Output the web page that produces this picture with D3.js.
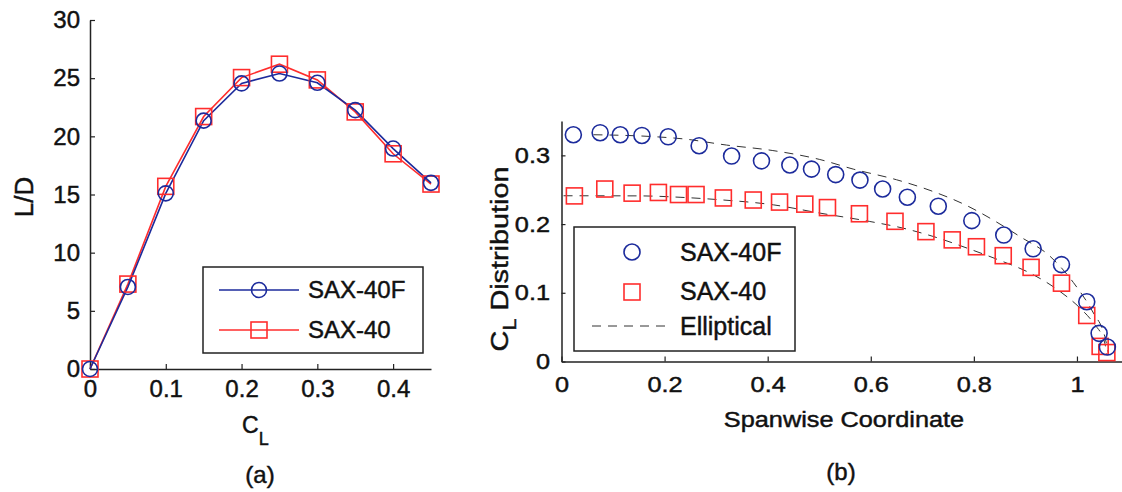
<!DOCTYPE html>
<html>
<head>
<meta charset="utf-8">
<script src="https://cdn.jsdelivr.net/npm/d3@7"></script>
<style>
  body { margin: 0; background: #fff; }
  svg { display: block; font-family: "Liberation Sans", Arial, sans-serif; }
  svg text { fill: #111; stroke: #111; stroke-width: 0.45px; }
</style>
</head>
<body>
<svg id="fig" width="1122" height="492"></svg>
<script>
// ---- panel (a): L/D vs CL ----
var clValues = [0, 0.05, 0.1, 0.15, 0.2, 0.25, 0.3, 0.35, 0.4, 0.45];
var ldSax40F = [0, 7.05, 15.1, 21.35, 24.55, 25.4, 24.6, 22.25, 18.95, 16.0];
var ldSax40  = [0, 7.3, 15.7, 21.7, 25.05, 26.2, 24.85, 22.1, 18.5, 15.9];
var aTicksX = [0, 0.1, 0.2, 0.3, 0.4];
var aTicksY = [0, 5, 10, 15, 20, 25, 30];

// ---- panel (b): spanwise CL distribution ----
var spanSax40F = [0.023, 0.075, 0.114, 0.156, 0.207, 0.267, 0.330, 0.388, 0.443, 0.485, 0.532,
                  0.579, 0.623, 0.671, 0.731, 0.796, 0.858, 0.915, 0.970, 1.019, 1.043, 1.059];
var clSax40F   = [0.330, 0.333, 0.330, 0.329, 0.327, 0.314, 0.299, 0.292, 0.286, 0.280, 0.272,
                  0.264, 0.251, 0.239, 0.226, 0.205, 0.184, 0.164, 0.141, 0.087, 0.041, 0.021];
var spanSax40  = [0.025, 0.084, 0.137, 0.188, 0.227, 0.261, 0.314, 0.372, 0.423, 0.472, 0.516,
                  0.578, 0.647, 0.707, 0.758, 0.805, 0.857, 0.911, 0.970, 1.019, 1.045, 1.058];
var clSax40    = [0.241, 0.251, 0.245, 0.246, 0.243, 0.243, 0.238, 0.235, 0.232, 0.229, 0.224,
                  0.215, 0.204, 0.189, 0.177, 0.167, 0.154, 0.137, 0.114, 0.067, 0.022, 0.013];
// elliptical reference curves (upper for SAX-40F, lower for SAX-40)
var spanEllA = [0.062, 0.172, 0.236, 0.32, 0.41, 0.501, 0.566, 0.650, 0.715, 0.786, 0.844,
                0.889, 0.948, 0.993, 1.032, 1.054, 1.061];
var clEllA   = [0.330, 0.3275, 0.324, 0.315, 0.307, 0.294, 0.280, 0.2645, 0.249, 0.227, 0.203,
                0.182, 0.153, 0.115, 0.0705, 0.0364, 0.0126];
var spanEllB = [0.004, 0.152, 0.23, 0.307, 0.411, 0.501, 0.598, 0.663, 0.721, 0.792, 0.851,
                0.909, 0.967, 1.006, 1.032, 1.054, 1.058];
var clEllB   = [0.2412, 0.241, 0.239, 0.2354, 0.228, 0.216, 0.2038, 0.194, 0.182, 0.1636, 0.147,
                0.1287, 0.102, 0.0777, 0.056, 0.0268, 0.01];
var bTicksX = [0, 0.2, 0.4, 0.6, 0.8, 1];
var bTicksY = [0, 0.1, 0.2, 0.3];

var blue = "#1c2b9c", red = "#ff2d2d", axisCol = "#222";
var svg = d3.select("#fig");

function zip(xs, ys) { return xs.map(function(v, i) { return [v, ys[i]]; }); }

function styleAxis(g, size, sx) {
    g.attr("font-family", null).attr("font-size", size);
    g.select(".domain").attr("stroke", axisCol).attr("stroke-width", 1.5);
    g.selectAll(".tick line").attr("stroke", axisCol).attr("stroke-width", 1.2);
    if (sx) g.selectAll(".tick text").attr("transform", "scale(" + sx + ",1)");
}

function circles(g, pts, x, y, r, col) {
    g.selectAll(null).data(pts).enter().append("circle")
        .attr("cx", function(d) { return x(d[0]); })
        .attr("cy", function(d) { return y(d[1]); })
        .attr("r", r)
        .attr("fill", "none").attr("stroke", col).attr("stroke-width", 1.6);
}
function squares(g, pts, x, y, s, col) {
    g.selectAll(null).data(pts).enter().append("rect")
        .attr("x", function(d) { return x(d[0]) - s / 2; })
        .attr("y", function(d) { return y(d[1]) - s / 2; })
        .attr("width", s).attr("height", s)
        .attr("fill", "none").attr("stroke", col).attr("stroke-width", 1.6);
}

// ================= (a) =================
var xa = d3.scaleLinear().domain([0, 0.45]).range([90, 431]);
var ya = d3.scaleLinear().domain([0, 30]).range([369, 20]);
var ga = svg.append("g");

ga.append("g").attr("transform", "translate(0,369)")
    .call(d3.axisBottom(xa).tickValues(aTicksX).tickSize(-5).tickSizeOuter(0).tickPadding(11)
        .tickFormat(function(d) { return d === 0 ? "0" : d3.format(".1f")(d); }))
    .call(styleAxis, 24);
ga.append("g").attr("transform", "translate(90,0)")
    .call(d3.axisLeft(ya).tickValues(aTicksY).tickSize(-5).tickSizeOuter(0).tickPadding(10))
    .call(styleAxis, 24);

var lineA = d3.line().x(function(d) { return xa(d[0]); }).y(function(d) { return ya(d[1]); });
var ptsA40 = zip(clValues, ldSax40), ptsA40F = zip(clValues, ldSax40F);
ga.append("path").attr("d", lineA(ptsA40)).attr("fill", "none").attr("stroke", red).attr("stroke-width", 1.6);
ga.append("path").attr("d", lineA(ptsA40F)).attr("fill", "none").attr("stroke", blue).attr("stroke-width", 1.6);
squares(ga, ptsA40, xa, ya, 16, red);
circles(ga, ptsA40F, xa, ya, 7.5, blue);

// legend (a)
ga.append("rect").attr("x", 203).attr("y", 267).attr("width", 220).attr("height", 86)
    .attr("fill", "#fff").attr("stroke", axisCol).attr("stroke-width", 1.5);
ga.append("line").attr("x1", 219).attr("x2", 299).attr("y1", 290).attr("y2", 290)
    .attr("stroke", blue).attr("stroke-width", 1.6);
ga.append("circle").attr("cx", 259).attr("cy", 290).attr("r", 7.5)
    .attr("fill", "none").attr("stroke", blue).attr("stroke-width", 1.6);
ga.append("line").attr("x1", 219).attr("x2", 299).attr("y1", 330).attr("y2", 330)
    .attr("stroke", red).attr("stroke-width", 1.6);
ga.append("rect").attr("x", 251).attr("y", 322).attr("width", 16).attr("height", 16)
    .attr("fill", "none").attr("stroke", red).attr("stroke-width", 1.6);
ga.append("text").attr("x", 308).attr("y", 298).attr("font-size", 24).text("SAX-40F");
ga.append("text").attr("x", 308).attr("y", 338).attr("font-size", 24).text("SAX-40");

// labels (a)
ga.append("text").attr("transform", "translate(33,197) rotate(-90)")
    .attr("text-anchor", "middle").attr("font-size", 26).text("L/D");
var xl = ga.append("text").attr("x", 242).attr("y", 433).attr("font-size", 23);
xl.append("tspan").text("C");
xl.append("tspan").attr("font-size", 18).attr("dy", 12).text("L");
ga.append("text").attr("x", 260).attr("y", 483).attr("text-anchor", "middle")
    .attr("font-size", 24).text("(a)");

// ================= (b) =================
var xb = d3.scaleLinear().domain([0, 1.1]).range([561.5, 1128.5]);
var yb = d3.scaleLinear().domain([0, 0.35]).range([361.5, 121]);
var gb = svg.append("g");

gb.append("g").attr("transform", "translate(0,361.5)")
    .call(d3.axisBottom(xb).tickValues(bTicksX).tickSize(-5).tickSizeOuter(0).tickPadding(15)
        .tickFormat(function(d) { return d === 0 || d === 1 ? String(d) : d3.format(".1f")(d); }))
    .call(styleAxis, 22, 1.15);
gb.append("g").attr("transform", "translate(561.5,0)")
    .call(d3.axisLeft(yb).tickValues(bTicksY).tickSize(-4).tickSizeOuter(0).tickPadding(10)
        .tickFormat(function(d) { return d === 0 ? "0" : d3.format(".1f")(d); }))
    .call(styleAxis, 22, 1.15);

var lineB = d3.line().curve(d3.curveMonotoneX)
    .x(function(d) { return xb(d[0]); }).y(function(d) { return yb(d[1]); });
[zip(spanEllA, clEllA), zip(spanEllB, clEllB)].forEach(function(pts) {
    gb.append("path").attr("d", lineB(pts)).attr("fill", "none")
        .attr("stroke", "#333").attr("stroke-width", 1).attr("stroke-dasharray", "9,7");
});
squares(gb, zip(spanSax40, clSax40), xb, yb, 16, red);
circles(gb, zip(spanSax40F, clSax40F), xb, yb, 8, blue);

// legend (b)
gb.append("rect").attr("x", 574).attr("y", 227).attr("width", 221).attr("height", 124)
    .attr("fill", "#fff").attr("stroke", axisCol).attr("stroke-width", 1.5);
gb.append("circle").attr("cx", 632).attr("cy", 252).attr("r", 8)
    .attr("fill", "none").attr("stroke", blue).attr("stroke-width", 1.6);
gb.append("rect").attr("x", 624).attr("y", 284).attr("width", 16).attr("height", 16)
    .attr("fill", "none").attr("stroke", red).attr("stroke-width", 1.6);
gb.append("line").attr("x1", 592).attr("x2", 672).attr("y1", 326).attr("y2", 326)
    .attr("stroke", "#333").attr("stroke-width", 1).attr("stroke-dasharray", "9,7");
gb.append("text").attr("x", 680).attr("y", 261).attr("font-size", 25).text("SAX-40F");
gb.append("text").attr("x", 680).attr("y", 300).attr("font-size", 25).text("SAX-40");
gb.append("text").attr("x", 680).attr("y", 335).attr("font-size", 25).text("Elliptical");

// labels (b)
var yl = gb.append("text").attr("transform", "translate(508,259) rotate(-90) scale(1.2,1)")
    .attr("text-anchor", "middle").attr("font-size", 24);
yl.append("tspan").text("C");
yl.append("tspan").attr("font-size", 18).attr("dy", 8).text("L");
yl.append("tspan").attr("dy", -8).text(" Distribution");
gb.append("text").attr("transform", "translate(844,427) scale(1.15,1)")
    .attr("text-anchor", "middle").attr("font-size", 22).text("Spanwise Coordinate");
gb.append("text").attr("x", 841).attr("y", 480).attr("text-anchor", "middle")
    .attr("font-size", 24).text("(b)");
</script>
</body>
</html>
